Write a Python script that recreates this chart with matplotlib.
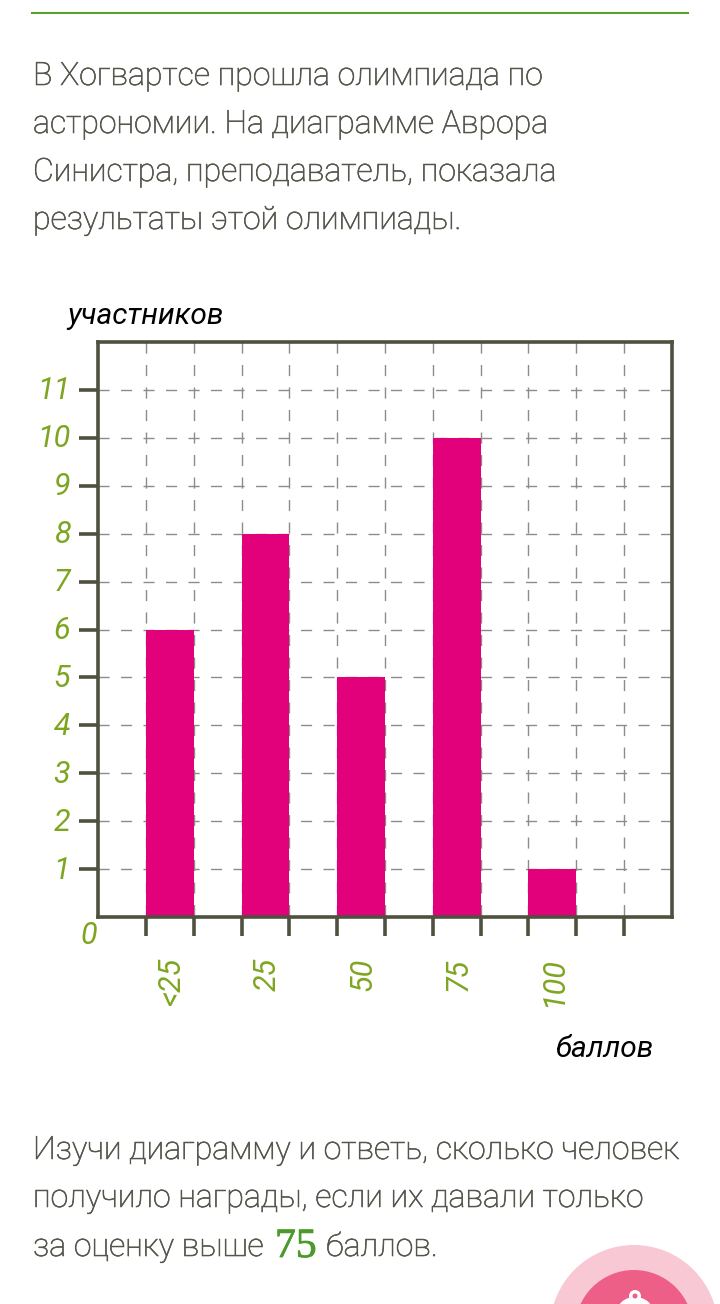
# -*- coding: utf-8 -*-
"""Диаграмма результатов олимпиады по астрономии."""
import matplotlib
matplotlib.use("Agg")
import matplotlib.pyplot as plt
import matplotlib.patheffects as pe
from matplotlib.patches import Circle, Ellipse
from matplotlib.transforms import ScaledTranslation

W, H = 720, 1304

CATEGORIES = ["<25", "25", "50", "75", "100"]
PARTICIPANTS = [6, 8, 5, 10, 1]
BAR_POS = [1.5, 3.5, 5.5, 7.5, 9.5]
Y_TICKS = list(range(1, 12))

TOP_LINES = [
    "В Хогвартсе прошла олимпиада по",
    "астрономии. На диаграмме Аврора",
    "Синистра, преподаватель, показала",
    "результаты этой олимпиады.",
]
BOTTOM_LINES = [
    "Изучи диаграмму и ответь, сколько человек",
    "получило награды, если их давали только",
]

TEXT_COLOR = "#55554c"
GREEN = "#7ea520"
FRAME = "#50503f"
PINK = "#e3007b"
BODY_SIZE = 23.1

plt.rcParams["font.family"] = ["Roboto", "DejaVu Sans"]

fig = plt.figure(figsize=(W / 100, H / 100), dpi=100, facecolor="white")

# слой страницы в пикселях
page = fig.add_axes([0, 0, 1, 1])
page.set_xlim(0, W)
page.set_ylim(H, 0)
page.axis("off")

page.plot([32, 688], [13, 13], color="#5aa02c", lw=1.5)


def body(x, y, s):
    # светлое начертание слишком тонкое, чуть утолщаем обводкой
    page.text(x, y, s, fontsize=BODY_SIZE, color=TEXT_COLOR, ha="left",
              va="baseline", fontweight="light",
              path_effects=[pe.withStroke(linewidth=0.45, foreground=TEXT_COLOR)])


for i, line in enumerate(TOP_LINES):
    body(33, 85 + i * 48, line)
for i, line in enumerate(BOTTOM_LINES):
    body(33, 1159 + i * 48, line)
body(33, 1256, "за оценку выше")
page.text(275, 1257, "75", fontsize=30, color="#4c9a2a", ha="left", va="baseline",
          family=["Liberation Serif"],
          path_effects=[pe.withStroke(linewidth=0.6, foreground="#4c9a2a")])
body(326, 1256, "баллов.")

# кнопка внизу справа
page.add_patch(Circle((634, 1329), 84, color="#f8c8d4", lw=0))
page.add_patch(Circle((634, 1329), 59, color="#ee5f88", lw=0))
page.add_patch(Ellipse((635, 1312), 36, 30, color="white", lw=0))
page.add_patch(Circle((635, 1296), 6, color="white", lw=0))
page.add_patch(Circle((635, 1296), 2.5, color="#ee5f88", lw=0))

page.text(146, 316, "участников", fontsize=21.5, style="italic", color="black",
          ha="center", va="center")
page.text(605, 1049, "баллов", fontsize=21.5, style="italic", color="black",
          ha="center", va="center")

# сам график
left, right, top, bottom = 98, 672, 342, 917
ax = fig.add_axes([left / W, 1 - bottom / H, (right - left) / W, (bottom - top) / H])
ax.set_facecolor("none")
ax.set_xlim(0, 12)
ax.set_ylim(0, 12)

grid_kw = dict(color="#8c8c8c", lw=1.0, dashes=(8, 8.2), zorder=1)
for y in Y_TICKS:
    ax.plot([0, 12], [y, y], **grid_kw)
for x in range(1, 12):
    ax.plot([x, x], [12, 0], **grid_kw)

ax.bar(BAR_POS, PARTICIPANTS, width=1.0, color=PINK, zorder=2)

for side in ax.spines.values():
    side.set_linewidth(2.6)
    side.set_color(FRAME)
    side.set_zorder(3)

ax.set_yticks(Y_TICKS)
ax.set_yticklabels(Y_TICKS, fontsize=22, style="italic", color=GREEN)
ax.tick_params(axis="y", length=14, width=2.6, color=FRAME, pad=6)
shift = ScaledTranslation(0, 2 / 100, fig.dpi_scale_trans)
for lab in ax.get_yticklabels():
    lab.set_transform(lab.get_transform() + shift)
ax.set_xticks(range(1, 12))
ax.set_xticklabels([])
ax.tick_params(axis="x", length=14, width=2.6, color=FRAME)

for pos, cat in zip(BAR_POS, CATEGORIES):
    ax.annotate(cat, (pos, 0), xytext=(1, -29), textcoords="offset points",
                rotation=90, fontsize=22, style="italic", color=GREEN,
                ha="center", va="top")
ax.annotate("0", (0, 0), xytext=(-1, -3), textcoords="offset points", fontsize=22,
            style="italic", color=GREEN, ha="right", va="top")

fig.savefig("out.png", dpi=100, facecolor="white")
